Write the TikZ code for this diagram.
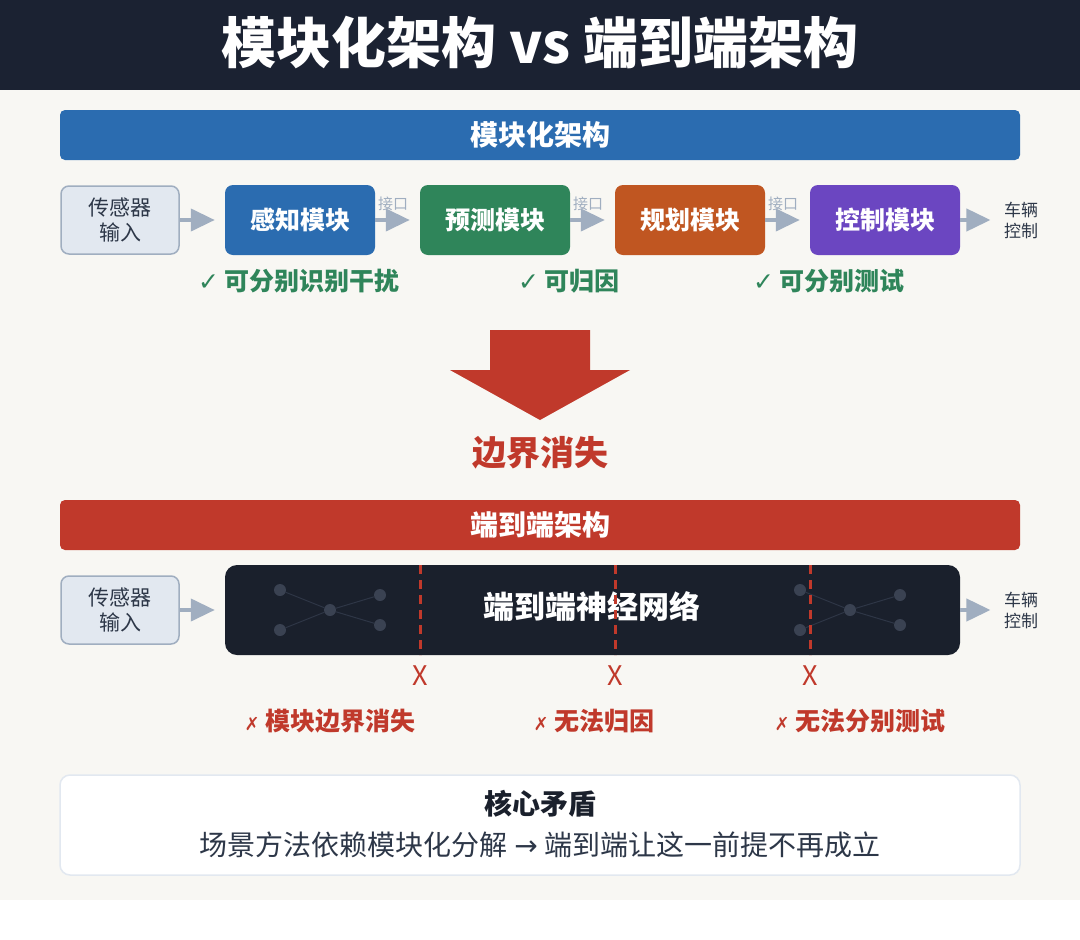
\documentclass[tikz,border=0pt]{standalone}
\usepackage{fontspec}
\newfontfamily\cjk{Noto Sans CJK SC}
\newfontfamily\symb{DejaVu Sans}
\usepackage{xcolor}
\usetikzlibrary{arrows.meta, positioning}

\definecolor{banner}{HTML}{1B2232}
\definecolor{cream}{HTML}{F8F7F3}
\definecolor{modblue}{HTML}{2B6CB0}
\definecolor{modgreen}{HTML}{2F855A}
\definecolor{modorange}{HTML}{C05621}
\definecolor{modpurple}{HTML}{6B46C1}
\definecolor{e2ered}{HTML}{C0392B}
\definecolor{nnbox}{HTML}{1A202C}
\definecolor{netdot}{HTML}{3A4252}
\definecolor{netline}{HTML}{2E3646}
\definecolor{arrgray}{HTML}{A0AEC0}
\definecolor{inbox}{HTML}{E2E8F0}
\definecolor{txtdark}{HTML}{2D3748}

\begin{document}
\begin{tikzpicture}[x=1pt, y=-1pt,
    bar/.style={rounded corners=5pt, minimum width=960pt, minimum height=50pt, inner sep=0pt,
        text=white, font=\cjk\bfseries\fontsize{28}{32}\selectfont},
    inbox/.style={draw=arrgray, line width=1.5pt, fill=inbox, rounded corners=8pt,
        minimum width=118pt, minimum height=68pt, inner sep=0pt, align=center,
        text=txtdark, font=\cjk\fontsize{21}{25}\selectfont},
    modbox/.style={rounded corners=8pt, minimum width=150pt, minimum height=70pt, inner sep=0pt,
        text=white, font=\cjk\bfseries\fontsize{25}{29}\selectfont},
    arr/.style={draw=arrgray, line width=4pt, -{Triangle[length=24pt, width=22pt]}, shorten >=10pt},
    iface/.style={text=arrgray, font=\cjk\fontsize{15}{17}\selectfont},
    outlbl/.style={align=left, text=txtdark, font=\cjk\fontsize{17}{21}\selectfont},
    good/.style={text=modgreen, font=\cjk\bfseries\fontsize{25}{29}\selectfont},
    bad/.style={text=e2ered, font=\cjk\bfseries\fontsize{25}{29}\selectfont},
    cut/.style={draw=e2ered, line width=3pt, dash pattern=on 9pt off 6pt},
    dot/.style={circle, fill=netdot, minimum size=12pt, inner sep=0pt},
]
    % Hintergrund und Titel
    \useasboundingbox (0,0) rectangle (1080,940);
    \fill[cream] (0,90) rectangle (1080,900);
    \fill[banner] (0,0) rectangle (1080,90);
    \node[text=white, font=\cjk\bfseries\fontsize{55}{60}\selectfont] (title) at (540,43)
        {模块化架构 vs 端到端架构};

    % Modulare Architektur
    \node[bar, fill=modblue] (modbar) at (540,135) {模块化架构};
    \node[inbox] (sens1) at (120,220) {传感器\\输入};
    \node[modbox, fill=modblue] (perc) at (300,220) {感知模块};
    \node[modbox, fill=modgreen] (pred) at (495,220) {预测模块};
    \node[modbox, fill=modorange] (plan) at (690,220) {规划模块};
    \node[modbox, fill=modpurple] (ctrl) at (885,220) {控制模块};
    \node[outlbl] (veh1) at (1021,220) {车辆\\控制};

    \draw[arr] (sens1) -- (perc);
    \draw[arr] (perc) -- (pred);
    \draw[arr] (pred) -- (plan);
    \draw[arr] (plan) -- (ctrl);
    \draw[arr] (ctrl) -- (veh1);

    \node[iface] (if1) at (393,204) {接口};
    \node[iface] (if2) at (588,204) {接口};
    \node[iface] (if3) at (783,204) {接口};

    \node[good] (g1) at (299,281) {{\symb ✓} 可分别识别干扰};
    \node[good] (g2) at (569,281) {{\symb ✓} 可归因};
    \node[good] (g3) at (829,281) {{\symb ✓} 可分别测试};

    % grosser Pfeil
    \fill[e2ered] (490,330) -- (590,330) -- (590,370) -- (630,370) -- (540,420)
        -- (450,370) -- (490,370) -- cycle;
    \node[text=e2ered, font=\cjk\bfseries\fontsize{34}{38}\selectfont] (lost) at (540,453) {边界消失};

    % End-to-End
    \node[bar, fill=e2ered] (e2ebar) at (540,525) {端到端架构};
    \node[inbox] (sens2) at (120,610) {传感器\\输入};
    \node[fill=nnbox, rounded corners=12pt, minimum width=735pt, minimum height=90pt,
        inner sep=0pt] (nn) at (592.5,610) {};
    \node[outlbl] (veh2) at (1021,610) {车辆\\控制};
    \draw[arr] (sens2) -- (nn);
    \draw[arr] (nn) -- (veh2);

    % angedeutete Netze
    \foreach \dx/\nm in {0/l, 520/r} {
        \node[dot] (\nm a) at (280+\dx,590) {};
        \node[dot] (\nm b) at (280+\dx,630) {};
        \node[dot] (\nm c) at (330+\dx,610) {};
        \node[dot] (\nm d) at (380+\dx,595) {};
        \node[dot] (\nm e) at (380+\dx,625) {};
        \draw[netline, line width=1pt] (\nm a) -- (\nm c) -- (\nm d)
            (\nm b) -- (\nm c) -- (\nm e);
    }

    \node[text=white, font=\cjk\bfseries\fontsize{31}{35}\selectfont] (nnlbl) at (592,607) {端到端神经网络};

    \foreach \cx/\nm in {420/c1, 615/c2, 810/c3} {
        \coordinate (\nm t) at (\cx,565);
        \coordinate (\nm b) at (\cx,655);
        \draw[cut] (\nm t) -- (\nm b);
        \node[text=e2ered, font=\cjk\fontsize{27}{30}\selectfont] (\nm x) at (\cx,676) {X};
    }

    \node[bad] (b1) at (330,721) {{\symb\fontsize{18}{22}\selectfont ✗} 模块边界消失};
    \node[bad] (b2) at (594,721) {{\symb\fontsize{18}{22}\selectfont ✗} 无法归因};
    \node[bad] (b3) at (860,721) {{\symb\fontsize{18}{22}\selectfont ✗} 无法分别测试};

    % Kernwiderspruch
    \node[draw=inbox, line width=1.5pt, fill=white, rounded corners=10pt, minimum width=960pt,
        minimum height=100pt, inner sep=0pt] (core) at (540,825) {};
    \node[text=nnbox, font=\cjk\bfseries\fontsize{28}{32}\selectfont] (coret) at (540,804) {核心矛盾};
    \node[text=txtdark, font=\cjk\fontsize{28}{32}\selectfont] (cored) at (540,845)
        {场景方法依赖模块化分解 {\symb →} 端到端让这一前提不再成立};
\end{tikzpicture}
\end{document}
